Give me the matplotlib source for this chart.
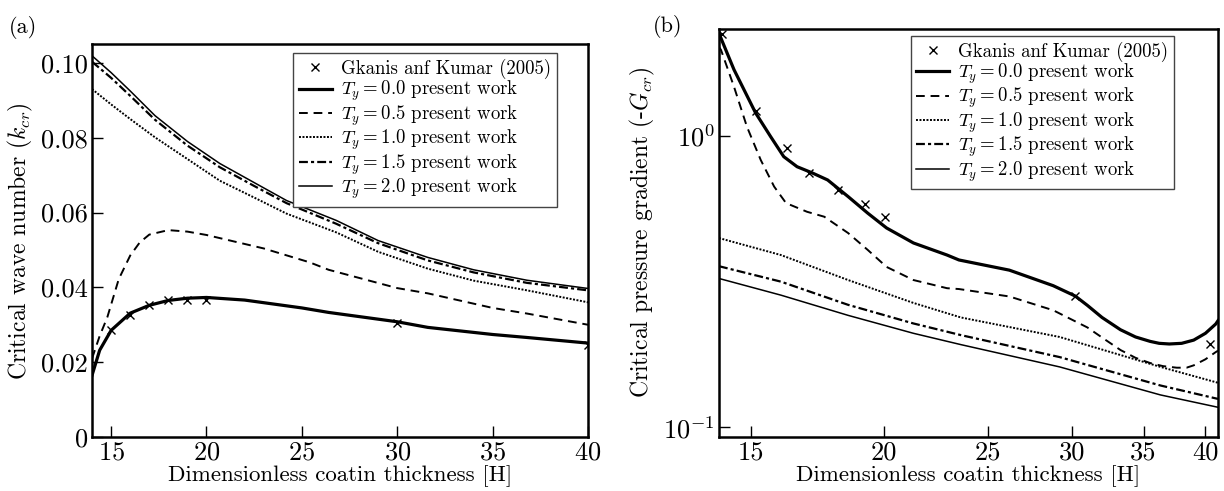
import numpy as np
import matplotlib
matplotlib.use("Agg")
import matplotlib.pyplot as plt
from matplotlib.ticker import FixedLocator, NullLocator, FixedFormatter, LogFormatterSciNotation

plt.rcParams['font.family'] = 'serif'
plt.rcParams['font.serif'] = ['cmr10']
plt.rcParams['mathtext.fontset'] = 'cm'
plt.rcParams['axes.formatter.use_mathtext'] = True
plt.rcParams['axes.unicode_minus'] = False

# ---- panel (a): critical wave number ----
a_ref_x = [15, 16, 17, 18, 19, 20, 30, 40]
a_ref_y = [0.0285, 0.0325, 0.0352, 0.0366, 0.0366, 0.0366, 0.0304, 0.0245]

a_t00_x = [14, 14.4, 15, 16, 17, 18, 19, 20, 22, 25, 26.4, 30, 31.6, 35, 36.8, 40]
a_t00_y = [0.0165, 0.0232, 0.0285, 0.0331, 0.0352, 0.0365, 0.0371, 0.0373, 0.0366,
           0.0345, 0.0333, 0.0308, 0.0293, 0.0274, 0.0266, 0.0251]

a_t05_x = [14, 14.4, 14.8, 15.4, 16, 16.5, 17, 18, 19, 20, 23, 25.4, 26.4, 30, 31.6, 35, 36.8, 40]
a_t05_y = [0.021, 0.027, 0.032, 0.0422, 0.0485, 0.052, 0.0541, 0.0553, 0.0549, 0.054,
           0.0504, 0.0467, 0.0447, 0.0398, 0.0384, 0.0345, 0.033, 0.030]

a_top_x = [14, 15, 16, 17.3, 19, 20.7, 22.5, 24.2, 26.8, 29, 31.6, 34, 36.8, 40]
a_t10_y = [0.093, 0.0889, 0.0850, 0.0801, 0.0743, 0.0685, 0.0640, 0.0597, 0.0547,
           0.0495, 0.0450, 0.0418, 0.0392, 0.0360]
a_t15_y = [0.1003, 0.0960, 0.0912, 0.0848, 0.0779, 0.0721, 0.0671, 0.0625, 0.0570,
           0.0518, 0.0472, 0.0440, 0.0412, 0.0392]
a_t20_y = [0.1019, 0.0974, 0.0925, 0.0859, 0.0790, 0.0731, 0.0680, 0.0632, 0.0579,
           0.0525, 0.0480, 0.0447, 0.0419, 0.0397]

# ---- panel (b): critical pressure gradient ----
b_ref_x = [14.1, 15.15, 16.2, 17.0, 18.1, 19.2, 20.05, 30.2, 40.4]
b_ref_y = [2.24, 1.22, 0.91, 0.748, 0.652, 0.582, 0.526, 0.282, 0.193]

b_t00_x = [14.0, 14.46, 15.15, 15.65, 16.1, 16.57, 17.1, 17.7, 18.5, 19.3, 20.1, 21.3,
           22.9, 23.5, 26.2, 28.8, 30.2, 31.0, 32.0, 33.3, 34.4, 35.5, 36.2, 37.0, 38.0,
           39.0, 40.0, 40.9, 41.1]
b_t00_y = [2.25, 1.69, 1.2, 0.995, 0.849, 0.784, 0.748, 0.706, 0.619, 0.543, 0.483, 0.429,
           0.39, 0.375, 0.346, 0.306, 0.282, 0.262, 0.238, 0.216, 0.204, 0.197, 0.194,
           0.193, 0.194, 0.199, 0.21, 0.226, 0.232]

b_t05_x = [14.0, 14.06, 14.46, 14.87, 15.32, 15.77, 16.18, 16.93, 17.57, 18.5, 19.3, 20.1,
           21.3, 22.9, 23.5, 26.2, 28.8, 31.0, 32.2, 33.3, 34.4, 35.5, 36.5, 37.6, 38.4,
           39.0, 40.0, 40.9, 41.1]
b_t05_y = [2.02, 1.976, 1.477, 1.076, 0.827, 0.67, 0.588, 0.549, 0.528, 0.464, 0.406, 0.355,
           0.32, 0.30, 0.298, 0.281, 0.252, 0.22, 0.2, 0.184, 0.173, 0.166, 0.162, 0.16, 0.16,
           0.163, 0.171, 0.181, 0.183]

b_low_x = [14.0, 16.0, 18.5, 21.3, 23.6, 29.2, 36.3, 41.1]
b_t10_y = [0.446, 0.39, 0.32, 0.267, 0.238, 0.204, 0.161, 0.142]
b_t15_y = [0.357, 0.316, 0.263, 0.227, 0.207, 0.174, 0.139, 0.125]
b_t20_y = [0.324, 0.284, 0.242, 0.210, 0.192, 0.161, 0.129, 0.117]

x_ticks = [15, 20, 25, 30, 35, 40]
a_y_ticks = [0, 0.02, 0.04, 0.06, 0.08, 0.10]
a_y_labels = ['0', '0.02', '0.04', '0.06', '0.08', '0.10']

ref_label = 'Gkanis anf Kumar (2005)'
ty_labels = [r'$T_y = 0.0$ present work', r'$T_y = 0.5$ present work',
             r'$T_y = 1.0$ present work', r'$T_y = 1.5$ present work',
             r'$T_y = 2.0$ present work']

fig = plt.figure(figsize=(12.24, 4.91), dpi=100)
axA = fig.add_axes((0.0752, 0.110, 0.4052, 0.800))
axB = fig.add_axes((0.5874, 0.110, 0.4077, 0.831))

styles = [
    dict(color='black', lw=2.3, ls='-'),
    dict(color='black', lw=1.4, dashes=(4.5, 3)),
    dict(color='black', lw=1.4, dashes=(1, 0.8)),
    dict(color='black', lw=1.6, dashes=(4, 1.4, 1.4, 1.4)),
    dict(color='black', lw=1.1, ls='-'),
]

def draw_panel(ax, ref_x, ref_y, series):
    ax.plot(ref_x, ref_y, 'x', color='black', ms=6, mew=1.0, label=ref_label)
    for (xs, ys), st, lab in zip(series, styles, ty_labels):
        ax.plot(xs, ys, label=lab, **st)
    for s in ax.spines.values():
        s.set_linewidth(1.8)
    ax.tick_params(which='major', direction='in', length=8, width=1.0,
                   labelsize=19, top=False, right=False, pad=3)
    ax.tick_params(which='minor', length=0)
    ax.set_xlabel('Dimensionless coatin thickness [H]', fontsize=16.5, labelpad=0)

def make_legend(ax, anchor):
    leg = ax.legend(loc='upper right', bbox_to_anchor=anchor, borderaxespad=0,
                    fontsize=13.5, fancybox=False, framealpha=1, edgecolor='#444444',
                    handlelength=1.75, handletextpad=0.5, labelspacing=0.0,
                    borderpad=0.3)
    leg.get_frame().set_linewidth(1.0)

draw_panel(axA, a_ref_x, a_ref_y,
           [(a_t00_x, a_t00_y), (a_t05_x, a_t05_y), (a_top_x, a_t10_y),
            (a_top_x, a_t15_y), (a_top_x, a_t20_y)])
axA.set_xlim(14, 40)
axA.set_ylim(0, 0.105)
axA.set_xticks(x_ticks)
axA.set_yticks(a_y_ticks)
axA.set_yticklabels(a_y_labels)
axA.set_ylabel(r'Critical wave number ($k_{cr}$)', fontsize=17, labelpad=4)
make_legend(axA, (0.9375, 0.977))

draw_panel(axB, b_ref_x, b_ref_y,
           [(b_t00_x, b_t00_y), (b_t05_x, b_t05_y), (b_low_x, b_t10_y),
            (b_low_x, b_t15_y), (b_low_x, b_t20_y)])
axB.set_xscale('log')
axB.set_yscale('log')
axB.set_xlim(14, 41.1)
axB.set_ylim(0.0925, 2.33)
axB.xaxis.set_major_locator(FixedLocator(x_ticks))
axB.xaxis.set_major_formatter(FixedFormatter([str(t) for t in x_ticks]))
axB.xaxis.set_minor_locator(NullLocator())
axB.yaxis.set_major_locator(FixedLocator([0.1, 1.0]))
axB.yaxis.set_major_formatter(LogFormatterSciNotation())
axB.yaxis.set_minor_locator(NullLocator())
axB.set_ylabel(r'Critical pressure gradient (-$G_{cr}$)', fontsize=17, labelpad=4)
make_legend(axB, (0.912, 0.983))

fig.text(0.007, 0.943, '(a)', fontsize=16, va='center')
fig.text(0.533, 0.947, '(b)', fontsize=16, va='center')

fig.savefig('out.png', dpi=100)
